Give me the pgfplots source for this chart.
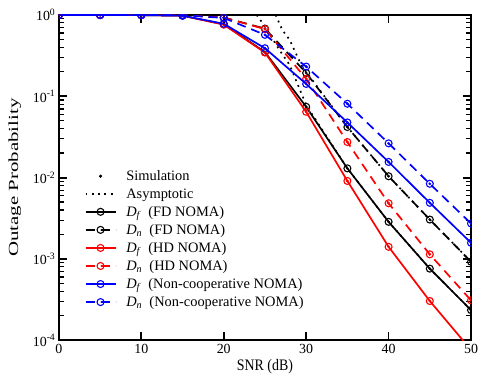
\documentclass[border=0pt]{standalone}
\usepackage{fontspec}
\setmainfont{Liberation Serif}
\usepackage{graphicx}
\usepackage{pgfplots}
\pgfplotsset{compat=1.18}
\definecolor{myred}{RGB}{255,0,0}
\definecolor{myblue}{RGB}{0,0,255}
\pgfplotsset{
  ana/.style={line width=1.7pt, mark=o, mark size=3.5bp, mark options={solid, fill=white, line width=1.1pt}},
  sim/.style={only marks, mark=*, mark size=1.2bp, forget plot},
  dsh/.style={dash pattern=on 9bp off 6bp},
  asy/.style={black, line width=1.7pt, dash pattern=on 1.8bp off 4.5bp, forget plot},
  simleg/.style={only marks, mark=*, mark size=1.4bp, black,
    legend image code/.code={\draw[mark repeat=2,mark phase=2,##1] plot coordinates {(0bp,0bp) (15bp,0bp) (30bp,0bp)}; \path (38bp,0bp);}},
}
\newcommand{\Df}{\textit{D}\textsubscript{\textit{f}}}
\newcommand{\Dn}{\textit{D}\textsubscript{\textit{n}}}
\begin{document}
\begin{tikzpicture}
\begin{axis}[
  name=ax,
  scale only axis, width=413bp, height=326bp,
  xmin=0, xmax=50, ymin=1e-4, ymax=1, ymode=log,
  xtick={0,10,...,50},
  ytick={1e-4,1e-3,1e-2,1e-1,1},
  yticklabels={10\textsuperscript{-4},10\textsuperscript{-3},10\textsuperscript{-2},10\textsuperscript{-1},10\textsuperscript{0}},
  /pgf/number format/assume math mode=true,
  tick align=inside,
  major tick length=8bp, minor tick length=5bp,
  axis line style={line width=2.2pt},
  every major tick/.append style={black, line width=1.8pt},
  every minor tick/.append style={black, line width=1.3pt},
  tick label style={font=\fontsize{14}{16}\selectfont},
  xlabel={\scalebox{1}[1.15]{SNR (dB)}},
  ylabel={\scalebox{1.5}[1]{Outage Probability}},
  label style={font=\fontsize{14}{16}\selectfont},
  xlabel style={at={(axis description cs:0.5,-0.08)}, anchor=center},
  ylabel style={at={(axis description cs:-0.107,0.5)}, anchor=center},
  clip marker paths=true,
  legend style={at={(0.055,0.535)}, anchor=north west, draw=none, fill=none,
    font=\fontsize{14.5}{16}\selectfont, row sep=2.6pt, cells={anchor=west}},
  legend image code/.code={\draw[mark repeat=2,mark phase=2,#1] plot coordinates {(0bp,0bp) (15bp,0bp) (30bp,0bp)}; \path (38bp,0bp);},
]
\addlegendimage{simleg}
\addlegendentry{Simulation}
\addlegendimage{black, line width=1.7pt, dash pattern=on 1.8bp off 4.5bp}
\addlegendentry{Asymptotic}

% asymptotic curves
\addplot[asy] coordinates {(24.0,1) (24.9,0.75) (26.75,0.372) (28,0.243) (29.5,0.104) (30,0.078) (35,0.013) (40,0.00286) (45,0.00076) (50,0.000235)};
\addplot[asy] coordinates {(26.3,1) (27.1,0.655) (28,0.494) (29.4,0.243) (30,0.2) (35,0.0419) (40,0.0104) (45,0.00305) (50,0.000924)};

% FD NOMA
\addplot[ana, black] coordinates {(0,0.9999) (5,0.999) (10,0.995) (15,0.98) (20,0.77) (25,0.35) (30,0.0743) (35,0.0130) (40,0.00286) (45,0.00076) (50,0.000235)};
\addlegendentry{\Df\ \ (FD NOMA)}
\addplot[ana, black, dsh] coordinates {(0,1) (5,0.9999) (10,0.999) (15,0.995) (20,0.93) (25,0.68) (30,0.194) (35,0.0419) (40,0.0104) (45,0.00305) (50,0.000924)};
\addlegendentry{\Dn\ \ (FD NOMA)}
% HD NOMA
\addplot[ana, myred] coordinates {(0,0.9999) (5,0.999) (10,0.995) (15,0.98) (20,0.76) (25,0.345) (30,0.0645) (35,0.0091) (40,0.00141) (45,0.000304) (50,0.000076)};
\addlegendentry{\Df\ \ (HD NOMA)}
\addplot[ana, myred, dsh] coordinates {(0,1) (5,0.9999) (10,0.999) (15,0.995) (20,0.93) (25,0.67) (30,0.164) (35,0.0274) (40,0.00484) (45,0.00114) (50,0.00031)};
\addlegendentry{\Dn\ \ (HD NOMA)}
% Non-cooperative NOMA
\addplot[ana, myblue] coordinates {(0,0.9999) (5,0.999) (10,0.995) (15,0.98) (20,0.78) (25,0.39) (30,0.142) (35,0.0477) (40,0.0156) (45,0.0049) (50,0.00158)};
\addlegendentry{\Df\ \ (Non-cooperative NOMA)}
\addplot[ana, myblue, dsh] coordinates {(0,1) (5,0.9999) (10,0.999) (15,0.995) (20,0.92) (25,0.57) (30,0.232) (35,0.081) (40,0.0264) (45,0.0084) (50,0.00273)};
\addlegendentry{\Dn\ \ (Non-cooperative NOMA)}

% simulation points
\addplot[sim, black] coordinates {(0,0.9999) (5,0.999) (10,0.995) (15,0.98) (20,0.77) (25,0.35) (30,0.0743) (35,0.0130) (40,0.00286) (45,0.00076) (50,0.000235)};
\addplot[sim, black] coordinates {(0,1) (5,0.9999) (10,0.999) (15,0.995) (20,0.93) (25,0.68) (30,0.194) (35,0.0419) (40,0.0104) (45,0.00305) (50,0.000924)};
\addplot[sim, myred] coordinates {(0,0.9999) (5,0.999) (10,0.995) (15,0.98) (20,0.76) (25,0.345) (30,0.0645) (35,0.0091) (40,0.00141) (45,0.000304) (50,0.000076)};
\addplot[sim, myred] coordinates {(0,1) (5,0.9999) (10,0.999) (15,0.995) (20,0.93) (25,0.67) (30,0.164) (35,0.0274) (40,0.00484) (45,0.00114) (50,0.00031)};
\addplot[sim, myblue] coordinates {(0,0.9999) (5,0.999) (10,0.995) (15,0.98) (20,0.78) (25,0.39) (30,0.142) (35,0.0477) (40,0.0156) (45,0.0049) (50,0.00158)};
\addplot[sim, myblue] coordinates {(0,1) (5,0.9999) (10,0.999) (15,0.995) (20,0.92) (25,0.57) (30,0.232) (35,0.081) (40,0.0264) (45,0.0084) (50,0.00273)};
\end{axis}
\pgfresetboundingbox
\path ([xshift=-59bp,yshift=-40bp]ax.south west) rectangle ([xshift=7bp,yshift=15bp]ax.north east);
\end{tikzpicture}
\end{document}
